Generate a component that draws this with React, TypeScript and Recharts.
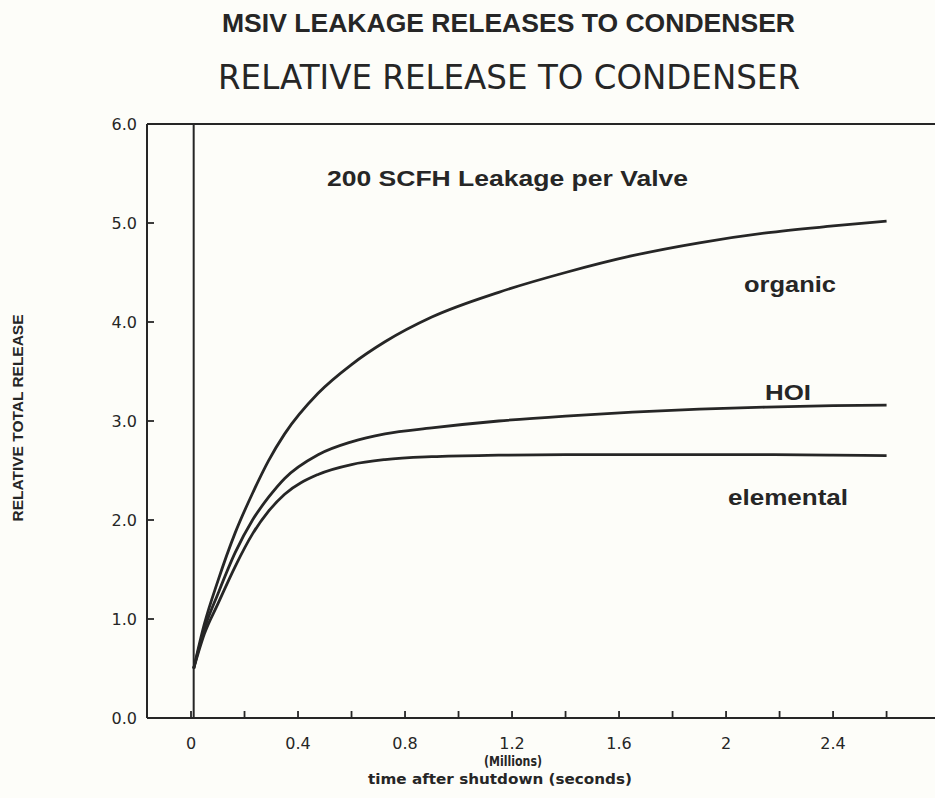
import React from "react";
import { LineChart, Line, XAxis, YAxis, ReferenceLine } from "recharts";

const timeMillions = [0.01, 0.05, 0.1, 0.165, 0.23, 0.29, 0.35, 0.475, 0.6, 0.725, 0.9, 1.15, 1.4, 1.65, 1.9, 2.15, 2.4, 2.6];
const organic = [0.5, 0.95, 1.38, 1.87, 2.27, 2.6, 2.87, 3.28, 3.57, 3.8, 4.05, 4.3, 4.5, 4.67, 4.8, 4.9, 4.97, 5.02];
const hoi = [0.5, 0.9, 1.25, 1.67, 2.0, 2.23, 2.42, 2.66, 2.79, 2.87, 2.93, 3.0, 3.05, 3.09, 3.12, 3.14, 3.155, 3.16];
const elemental = [0.5, 0.85, 1.15, 1.53, 1.86, 2.09, 2.26, 2.46, 2.56, 2.61, 2.64, 2.655, 2.66, 2.66, 2.66, 2.66, 2.655, 2.65];

const xTicks = [0, 0.2, 0.4, 0.6, 0.8, 1.0, 1.2, 1.4, 1.6, 1.8, 2.0, 2.2, 2.4, 2.6];
const xLabelTicks = [0, 0.4, 0.8, 1.2, 1.6, 2.0, 2.4];
const xLabelText = ["0", "0.4", "0.8", "1.2", "1.6", "2", "2.4"];
const yTicks = [0, 1, 2, 3, 4, 5, 6];
const shutdownTime = 0.01;

const data = timeMillions.map((t, i) => ({
  t,
  organic: organic[i],
  hoi: hoi[i],
  elemental: elemental[i],
}));

const INK = "#262626";
const FONT = "'DejaVu Sans', sans-serif";
const BOLD = "'Liberation Sans', Arial, sans-serif";

const XTick = (props: any) => {
  const { x, y, payload } = props;
  const v = payload.value;
  const idx = xLabelTicks.findIndex((a) => Math.abs(a - v) < 1e-6);
  return (
    <g>
      <line x1={x} x2={x} y1={y} y2={y - 7} stroke={INK} strokeWidth={1.8} />
      {idx >= 0 && (
        <text x={x} y={y + 31} textAnchor="middle" fontFamily={FONT} fontSize={16} fill={INK}>
          {xLabelText[idx]}
        </text>
      )}
    </g>
  );
};

const YTick = (props: any) => {
  const { x, y, payload } = props;
  return (
    <g>
      <line x1={x} x2={x + 7} y1={y} y2={y} stroke={INK} strokeWidth={1.8} />
      <text x={x - 10} y={y + 6} textAnchor="end" fontFamily={FONT} fontSize={16} fill={INK}>
        {Number(payload.value).toFixed(1)}
      </text>
    </g>
  );
};

export default function App() {
  return (
    <div style={{ position: "absolute", left: 0, top: 0, width: 935, height: 798, background: "#fdfdf9", overflow: "hidden" }}>
      <LineChart
        width={935}
        height={798}
        data={data}
        margin={{ top: 124, right: 0, bottom: 50, left: 87 }}
      >
        <XAxis
          dataKey="t"
          type="number"
          domain={[-0.1645, 2.781]}
          ticks={xTicks}
          interval={0}
          allowDataOverflow
          height={30}
          tickSize={0}
          tickMargin={0}
          tickLine={false}
          tick={<XTick />}
          axisLine={{ stroke: INK, strokeWidth: 2 }}
        />
        <YAxis
          type="number"
          domain={[0, 6]}
          ticks={yTicks}
          interval={0}
          width={60}
          tickSize={0}
          tickMargin={0}
          tickLine={false}
          tick={<YTick />}
          axisLine={{ stroke: INK, strokeWidth: 2 }}
        />
        <ReferenceLine y={6} stroke={INK} strokeWidth={2} ifOverflow="visible" />
        <ReferenceLine x={shutdownTime} stroke={INK} strokeWidth={2} />
        <Line dataKey="organic" type="monotone" stroke={INK} strokeWidth={2.8} dot={false} isAnimationActive={false} />
        <Line dataKey="hoi" type="monotone" stroke={INK} strokeWidth={2.8} dot={false} isAnimationActive={false} />
        <Line dataKey="elemental" type="monotone" stroke={INK} strokeWidth={2.8} dot={false} isAnimationActive={false} />
      </LineChart>
      <svg width={935} height={798} style={{ position: "absolute", left: 0, top: 0, pointerEvents: "none" }}>
        <text x={222} y={32} fontFamily={BOLD} fontWeight="bold" fontSize={26} fill={INK} textLength={573} lengthAdjust="spacingAndGlyphs">
          MSIV LEAKAGE RELEASES TO CONDENSER
        </text>
        <text x={218} y={89} fontFamily={FONT} fontSize={34} fill={INK} textLength={582} lengthAdjust="spacingAndGlyphs">
          RELATIVE RELEASE TO CONDENSER
        </text>
        <text x={327} y={186} fontFamily={BOLD} fontWeight="bold" fontSize={22} fill={INK} textLength={361} lengthAdjust="spacingAndGlyphs">
          200 SCFH Leakage per Valve
        </text>
        <text x={744} y={292} fontFamily={BOLD} fontWeight="bold" fontSize={22} fill={INK} textLength={92} lengthAdjust="spacingAndGlyphs">
          organic
        </text>
        <text x={765} y={400} fontFamily={BOLD} fontWeight="bold" fontSize={22} fill={INK} textLength={46} lengthAdjust="spacingAndGlyphs">
          HOI
        </text>
        <text x={728} y={505} fontFamily={BOLD} fontWeight="bold" fontSize={22} fill={INK} textLength={120} lengthAdjust="spacingAndGlyphs">
          elemental
        </text>
        <text x={513} y={766} textAnchor="middle" fontFamily={FONT} fontWeight="bold" fontSize={14} fill={INK} textLength={58} lengthAdjust="spacingAndGlyphs">
          (Millions)
        </text>
        <text x={500} y={784} textAnchor="middle" fontFamily={FONT} fontWeight="bold" fontSize={14} fill={INK} textLength={264} lengthAdjust="spacingAndGlyphs">
          time after shutdown (seconds)
        </text>
        <text
          x={0}
          y={0}
          transform="translate(23,418) rotate(-90)"
          textAnchor="middle"
          fontFamily={BOLD}
          fontWeight="bold"
          fontSize={15}
          fill={INK}
          textLength={207}
          lengthAdjust="spacingAndGlyphs"
        >
          RELATIVE TOTAL RELEASE
        </text>
      </svg>
    </div>
  );
}
